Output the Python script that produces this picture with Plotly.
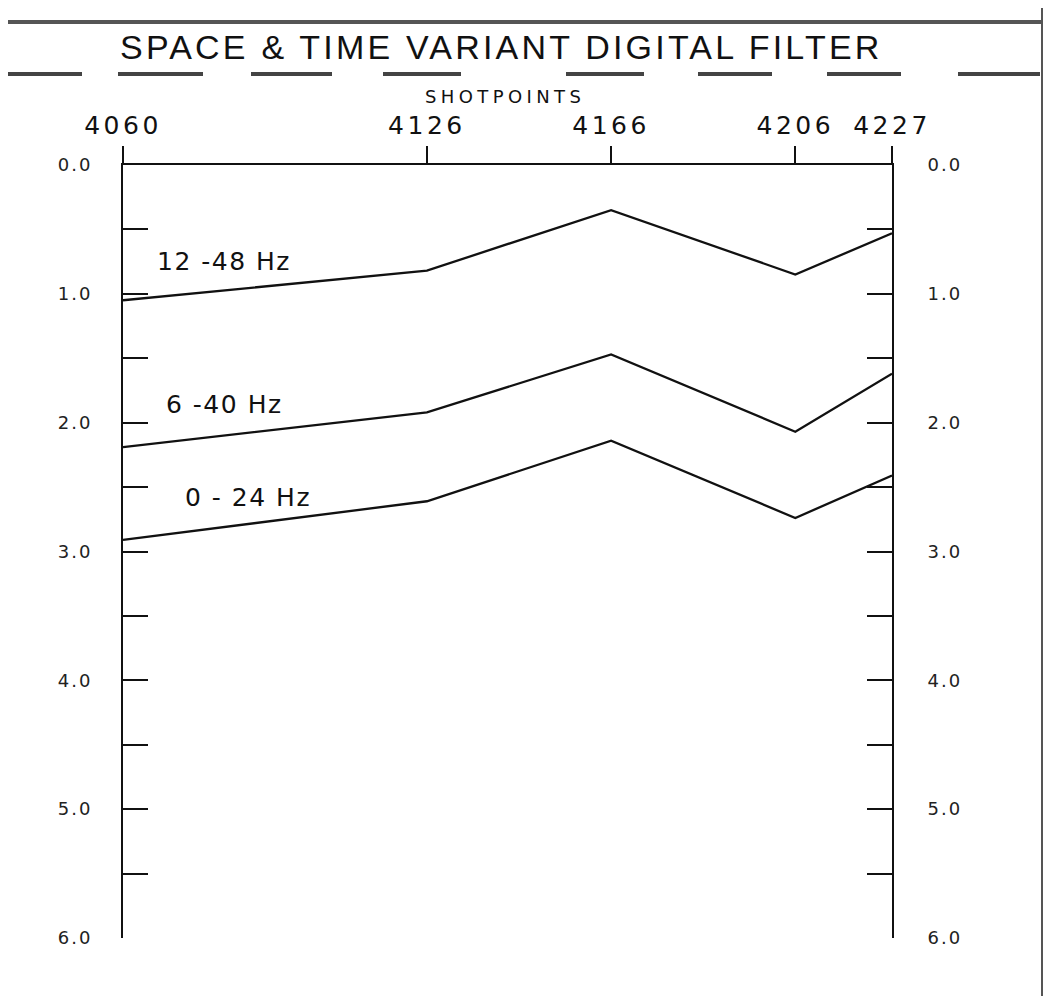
import plotly.graph_objects as go

# ---- data ----
shotpoints = [4060, 4126, 4166, 4206, 4227]
filter_12_48 = [1.05, 0.82, 0.35, 0.85, 0.53]
filter_6_40 = [2.19, 1.92, 1.47, 2.07, 1.62]
filter_0_24 = [2.91, 2.61, 2.14, 2.74, 2.41]
series_names = ["12 -48 Hz", "6 -40 Hz", "0 - 24 Hz"]
label_pos = [(4067, 0.75), (4069, 1.86), (4073, 2.58)]
time_ticks = [0.0, 0.5, 1.0, 1.5, 2.0, 2.5, 3.0, 3.5, 4.0, 4.5, 5.0, 5.5, 6.0]
time_labels = ["0.0", "", "1.0", "", "2.0", "", "3.0", "", "4.0", "", "5.0", "", "6.0"]

# page offset of the plot div (body margin)
OFF = 8
W, H = 1051 - OFF, 996 - OFF
# plot area in page pixels
L, R, T, B = 123, 892, 165, 938

def px(p):
    return (p - L) / (R - L)

def py(p):
    return (B - p) / (B - T)

def spaced(s, ls):
    return '<span style="letter-spacing:%spx">%s</span>' % (ls, s)

fig = go.Figure()
for vals in [filter_12_48, filter_6_40, filter_0_24]:
    fig.add_trace(go.Scatter(x=shotpoints, y=vals, mode="lines",
                             line=dict(color="#111111", width=2.3),
                             showlegend=False, hoverinfo="skip"))
# invisible trace for the right-hand axis
fig.add_trace(go.Scatter(x=[shotpoints[0]], y=[time_ticks[0]], yaxis="y2",
                         mode="markers", marker=dict(opacity=0),
                         showlegend=False, hoverinfo="skip"))

for name, (lx, ly) in zip(series_names, label_pos):
    fig.add_annotation(x=lx, y=ly, text=spaced(name, 1.5), showarrow=False,
                       xanchor="left", yanchor="middle",
                       font=dict(family="DejaVu Sans", size=25, color="#111"))

tickfont_x = dict(family="DejaVu Sans", size=25, color="#111")
tickfont_y = dict(family="DejaVu Sans", size=18, color="#222")
y_text = [spaced(t, 2) if t else "" for t in time_labels]

fig.update_layout(
    width=W, height=H,
    margin=dict(l=L - OFF, r=W - (R - OFF), t=T - OFF, b=H - (B - OFF),
                autoexpand=False),
    paper_bgcolor="white", plot_bgcolor="white",
    xaxis=dict(side="top", range=[4060, 4227], tickvals=shotpoints,
               ticktext=[spaced(str(s), 3.5) for s in shotpoints],
               ticks="outside", ticklen=17, tickwidth=2, tickcolor="#111",
               showline=True, linewidth=2, linecolor="#111",
               showgrid=False, zeroline=False, tickfont=tickfont_x,
               ticklabelstandoff=2),
    yaxis=dict(range=[6, 0], tickvals=time_ticks, ticktext=y_text,
               ticks="inside", ticklen=25, tickwidth=2, tickcolor="#111",
               showline=True, linewidth=2, linecolor="#111",
               showgrid=False, zeroline=False, tickfont=tickfont_y,
               ticklabelstandoff=25),
    yaxis2=dict(range=[6, 0], overlaying="y", side="right",
                tickvals=time_ticks, ticktext=y_text,
                ticks="inside", ticklen=25, tickwidth=2, tickcolor="#111",
                showline=True, linewidth=2, linecolor="#111",
                showgrid=False, zeroline=False, tickfont=tickfont_y,
                ticklabelstandoff=30),
)

# title and axis caption
fig.add_annotation(xref="paper", yref="paper", x=px(501), y=py(47),
                   text=spaced("SPACE &amp; TIME VARIANT DIGITAL FILTER", 3.2),
                   showarrow=False, xanchor="center", yanchor="middle",
                   font=dict(family="Liberation Sans, Arial, sans-serif",
                             size=34, color="#111"))
fig.add_annotation(xref="paper", yref="paper", x=px(505), y=py(97),
                   text=spaced("SHOTPOINTS", 4.4), showarrow=False,
                   xanchor="center", yanchor="middle",
                   font=dict(family="DejaVu Sans", size=18, color="#111"))

# page decorations
fig.add_shape(type="line", xref="paper", yref="paper",
              x0=px(0), x1=px(1045), y0=py(22), y1=py(22),
              line=dict(color="#555", width=4))
fig.add_shape(type="line", xref="paper", yref="paper",
              x0=px(1043), x1=px(1043), y0=py(0), y1=py(996),
              line=dict(color="#555", width=4))
dash_segments = [(0, 82), (118, 203), (251, 332), (383, 461),
                 (566, 644), (698, 772), (827, 901), (958, 1040)]
for a, b in dash_segments:
    fig.add_shape(type="line", xref="paper", yref="paper",
                  x0=px(a), x1=px(b), y0=py(74), y1=py(74),
                  line=dict(color="#444", width=4))

fig.write_html("out.html")
